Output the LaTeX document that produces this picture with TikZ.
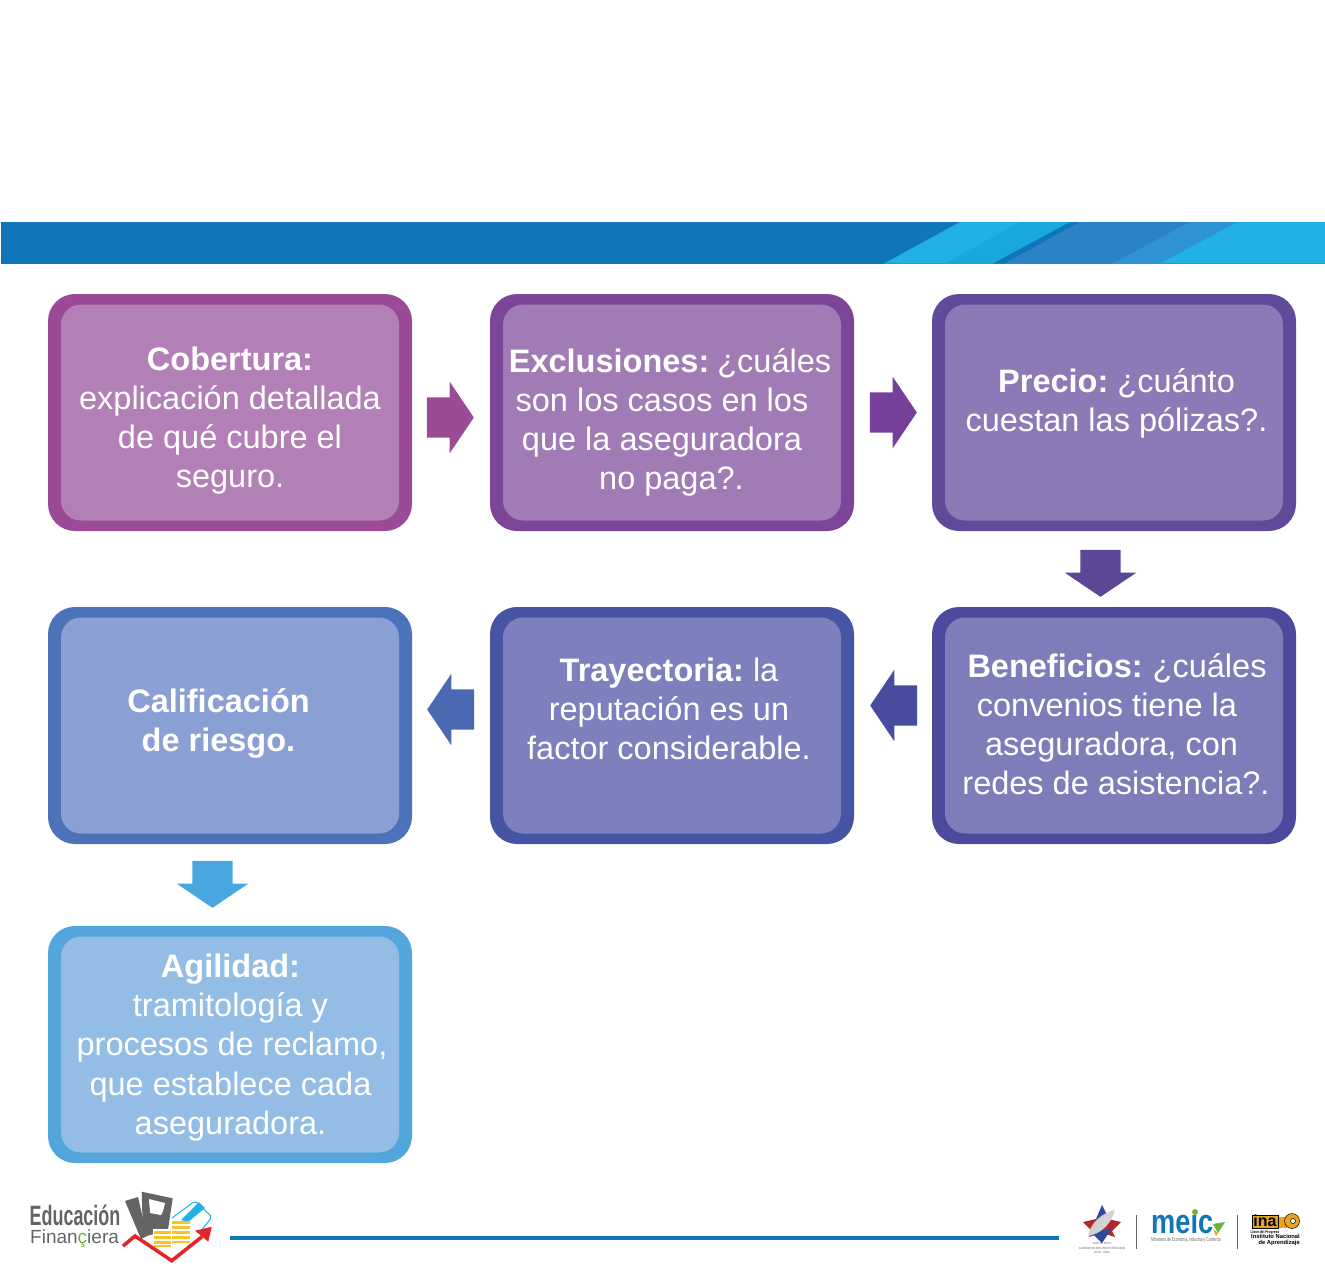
\documentclass[tikz,border=0pt]{standalone}
\usepackage{fontspec}
\usepackage{graphicx}
\setmainfont{Liberation Sans}
\usetikzlibrary{shapes.arrows}
\definecolor{bandblue}{HTML}{0F76BA}
\definecolor{bandsky}{HTML}{21B1E7}
\definecolor{bandmid}{HTML}{18A7DF}
\definecolor{bandsoft}{HTML}{2B82C4}
\definecolor{bandpale}{HTML}{2D93D3}
\definecolor{logogrey}{HTML}{636466}
\definecolor{logored}{HTML}{E3242B}
\definecolor{logogold}{HTML}{F7C625}
\definecolor{logogreen}{HTML}{6DB33F}
\definecolor{logoorange}{HTML}{E8A521}
\definecolor{stared}{HTML}{B3282D}
\definecolor{starblue}{HTML}{2F4A9B}
\definecolor{darka}{HTML}{9A4A96}
\definecolor{lighta}{HTML}{B37FB7}
\definecolor{darkb}{HTML}{7D4598}
\definecolor{lightb}{HTML}{A07BB5}
\definecolor{darkc}{HTML}{624A9B}
\definecolor{lightc}{HTML}{8D79B5}
\definecolor{darkd}{HTML}{4D4A9E}
\definecolor{lightd}{HTML}{7E7DB9}
\definecolor{darke}{HTML}{4655A3}
\definecolor{lighte}{HTML}{7E80BE}
\definecolor{darkf}{HTML}{4C73BA}
\definecolor{lightf}{HTML}{8A9FD3}
\definecolor{darkg}{HTML}{52A6DC}
\definecolor{lightg}{HTML}{93BDE4}
\definecolor{arrowa}{HTML}{9B4A96}
\definecolor{arrowb}{HTML}{754099}
\definecolor{arrowc}{HTML}{5C4696}
\definecolor{arrowd}{HTML}{474C9F}
\definecolor{arrowe}{HTML}{4B69B2}
\definecolor{arrowf}{HTML}{49A7DF}
\tikzset{
  outerbox/.style={fill=#1, rounded corners=27pt, minimum width=364pt, minimum height=237pt, inner sep=0pt},
  innerbox/.style={fill=#1, rounded corners=20pt, minimum width=338pt, minimum height=216pt, inner sep=0pt},
  boxtext/.style={text=white, align=center, inner sep=0pt,
    font=\fontsize{32.5}{39.1}\selectfont},
  bigarrow/.style={shape=single arrow, fill=#1, inner xsep=11.5pt, inner ysep=20pt, minimum width=71pt,
    minimum height=47pt, single arrow head extend=15.5pt, single arrow tip angle=112},
}
\begin{document}
\begin{tikzpicture}[x=1pt, y=-1pt]
    \useasboundingbox (0,0) rectangle (1325,1274);
    % band
    \fill[bandblue] (1,222) rectangle (1325,263.5);
    \fill[bandsky] (960,222) -- (1325,222) -- (1325,263.5) -- (884,263.5) -- cycle;
    \fill[bandmid] (1020,222) -- (1070,222) -- (993,263.5) -- (945,263.5) -- cycle;
    \fill[bandblue] (1070,222) -- (1080,222) -- (1005,263.5) -- (993,263.5) -- cycle;
    \fill[bandsoft] (1080,222) -- (1190,222) -- (1113,263.5) -- (1005,263.5) -- cycle;
    \fill[bandpale] (1190,222) -- (1237,222) -- (1160,263.5) -- (1113,263.5) -- cycle;
    % boxes
    \foreach \name/\xpos/\ypos/\tone in {cobertura/230/412.5/a, exclusiones/672/412.5/b, precio/1114/412.5/c,
        beneficios/1114/725.5/d, trayectoria/672/725.5/e, calificacion/230/725.5/f, agilidad/230/1044.5/g} {
      \node[outerbox=dark\tone] (\name) at (\xpos,\ypos) {};
      \node[innerbox=light\tone] (in\name) at (\xpos,\ypos) {};
    }
    % texts
    \node[boxtext] (tcobertura) at (230,420.5) {\textbf{Cobertura:}\\explicación detallada\\de qué cubre el\\seguro.};
    \node[boxtext] (texclusiones) at (670,422.5) {\textbf{Exclusiones:}\kern-4pt{} ¿cuáles\\son los casos en los\kern16pt\\que la aseguradora\kern16pt\\\kern3pt no paga?.};
    \node[boxtext] (tprecio) at (1116.5,403) {\textbf{Precio:}\kern-3pt{} ¿cuánto\\cuestan las pólizas?.};
    \node[boxtext] (tbeneficios) at (1116,724) {\kern2pt\textbf{Beneficios:}\kern-2pt{} ¿cuáles\\convenios tiene la\kern18pt\\aseguradora, con\kern9pt\\redes de asistencia?.};
    \node[boxtext] (ttrayectoria) at (669,709) {\textbf{Trayectoria:}\kern-3pt{} la\\reputación es un\\factor considerable.};
    \node[boxtext, font=\fontsize{32.5}{39.1}\selectfont\bfseries] (tcalificacion) at (218.5,723.5) {Calificación\\de riesgo.};
    \node[boxtext] (tagilidad) at (232,1047.5) {\kern-3pt\textbf{Agilidad:}\\\kern-3pt tramitología y\\procesos de reclamo,\\\kern-3pt que establece cada\\\kern-3pt aseguradora.};
    % arrows
    \node[bigarrow=arrowa] (a1) at (443.5,417.5) {};
    \node[bigarrow=arrowb] (a2) at (886.5,412.5) {};
    \node[bigarrow=arrowc, rotate=270] (a3) at (1100.5,566.5) {};
    \node[bigarrow=arrowd, rotate=180] (a4) at (900.5,705.5) {};
    \node[bigarrow=arrowe, rotate=180] (a5) at (457.5,709.5) {};
    \node[bigarrow=arrowf, rotate=270] (a6) at (212.5,877.5) {};
    % bottom line
    \coordinate (linestart) at (230,1238);
    \coordinate (lineend) at (1059,1238);
    \draw[bandblue, line width=3.5pt] (linestart) -- (lineend);
    % logo left
    \node[anchor=base west, inner sep=0pt, text=logogrey] (edu) at (29.5,1225) {\scalebox{.64}[1]{\fontsize{28}{28}\selectfont\bfseries Educación}};
    \node[anchor=base west, inner sep=0pt, text=logogrey] (fin) at (30,1243) {\fontsize{19}{19}\selectfont Finan\textcolor{logogreen}{ç}iera};
    \fill[logogrey] (125,1201) -- (138,1197) -- (147,1236) -- (141,1239) -- cycle;
    \fill[logogrey] (141.7,1191.7) -- (172.7,1198.3) -- (168,1230) -- (143,1237) -- cycle;
    \fill[white] (149,1199) -- (165,1203) .. controls (164,1208) and (163,1212) .. (161,1215) -- (150,1213) .. controls (150,1208) and (149,1204) .. (149,1199);
    \fill[logogrey] (155.7,1222) circle (7.3);
    \fill[white] (153,1229) rectangle (191,1248);
    \draw[bandsky, line width=1pt, rounded corners=2pt] (172,1218) -- (195,1201) -- (212,1217) -- (200,1232);
    \fill[bandsky] (181,1220) -- (199,1202) -- (205,1208) -- (188,1222) -- cycle;
    \foreach \y in {1231,1236,1241,1244.5} \fill[logogold] (154,\y) rectangle (171,\y+2.5);
    \foreach \y in {1221,1226,1231,1236,1240.5} \fill[logogold] (172,\y) rectangle (190,\y+2.7);
    \draw[logored, line width=3.5pt] (123,1246) -- (135,1236) -- (171.7,1260.7) -- (202,1236.7);
    \fill[logored] (195,1230.7) -- (211.7,1226.7) -- (208.3,1241.7) -- cycle;
    % logo right
    \fill[stared] (1083,1222) -- (1096,1219) -- (1108,1219) -- (1121,1222) -- (1112,1231) -- (1115,1237) -- (1102,1233) -- (1089,1237) -- (1092,1231) -- cycle;
    \fill[starblue] (1102,1205) -- (1109,1219) -- (1096,1219) -- cycle;
    \fill[starblue] (1092,1233) -- (1112,1228) -- (1102,1243) -- cycle;
    \fill[gray!35] (1115,1210) .. controls (1111,1225) and (1100,1234) .. (1088,1236) .. controls (1091,1222) and (1102,1213) .. (1115,1210);
    \node[inner sep=0pt, text=logogrey] (cr) at (1102,1248.5) {\fontsize{3}{4.5}\selectfont\begin{tabular}{@{}c@{}}COSTA RICA\\GOBIERNO DEL BICENTENARIO\\2018 - 2022\end{tabular}};
    \coordinate (sepa) at (1136,1215);
    \coordinate (sepb) at (1136,1249);
    \coordinate (sepc) at (1237,1215);
    \coordinate (sepd) at (1237,1249);
    \draw[logogrey, line width=1pt] (sepa) -- (sepb);
    \draw[logogrey, line width=1pt] (sepc) -- (sepd);
    \node[anchor=base west, inner sep=0pt, text=bandblue] (meic) at (1151,1233) {\scalebox{.8}[1]{\fontsize{34}{34}\selectfont\bfseries meıc}};
    \fill[logogreen] (1195,1212) circle (3);
    \fill[logogreen] (1213,1224) -- (1225,1222) -- (1218,1233) -- cycle;
    \fill[logoorange] (1213,1229) -- (1218,1233) -- (1216,1236) -- cycle;
    \node[anchor=west, inner sep=0pt, text=logogrey] (meictext) at (1151,1240.5) {\scalebox{.62}[1]{\fontsize{5.6}{6}\selectfont Ministerio de Economía, Industria y Comercio}};
    \fill[logoorange] (1278,1217) rectangle (1287,1228);
    \draw[black, fill=logoorange, line width=.5pt] (1252,1215) rectangle (1278,1228);
    \node[anchor=base, inner sep=0pt, text=black] (inatext) at (1265,1226.5) {\fontsize{16}{16}\selectfont\bfseries ina};
    \draw[black, fill=logoorange, line width=.5pt] (1292,1221) circle (7.5);
    \draw[black, fill=white, line width=.5pt] (1293,1221) circle (2.5);
    \node[anchor=base, inner sep=0pt, text=black] (inaslogan) at (1265,1233.5) {\scalebox{.8}[1]{\fontsize{4}{4}\selectfont\bfseries Llave del Progreso}};
    \node[anchor=east, inner sep=0pt, text=black] (inaname) at (1300,1240.5) {\fontsize{5.8}{5.6}\selectfont\bfseries\begin{tabular}{@{}r@{}}Instituto Nacional\\de Aprendizaje\end{tabular}};
\end{tikzpicture}
\end{document}
